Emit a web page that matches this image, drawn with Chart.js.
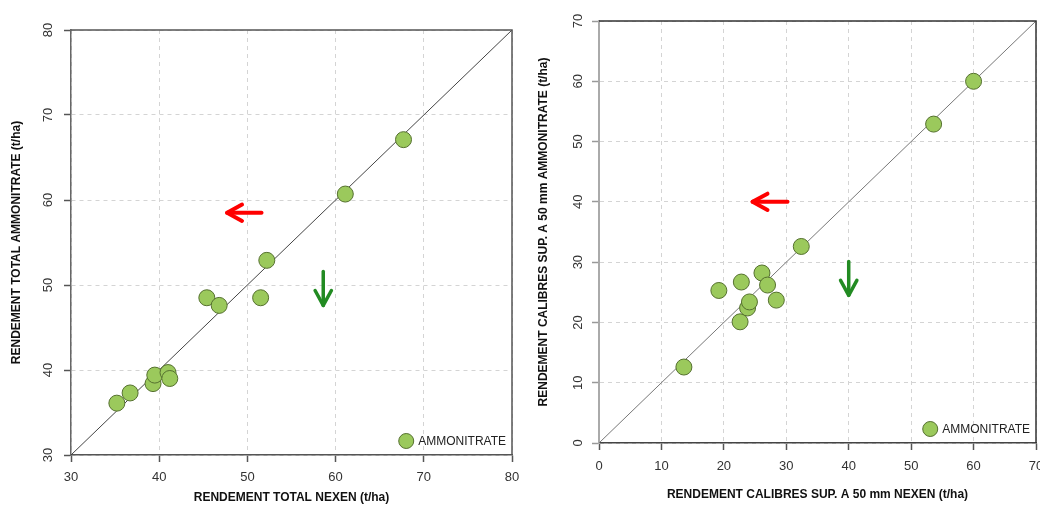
<!DOCTYPE html>
<html>
<head>
<meta charset="utf-8">
<script src="https://cdn.jsdelivr.net/npm/chart.js@4.4.1/dist/chart.umd.min.js"></script>
<style>
  html, body { margin: 0; padding: 0; background: #fff; width: 1040px; height: 511px; overflow: hidden; }
  #wrapL { position: absolute; left: 0; top: 0; width: 520px; height: 511px; overflow: hidden; }
  #wrapR { position: absolute; left: 520px; top: 0; width: 540px; height: 511px; }
</style>
</head>
<body>
<div id="wrapL"><canvas id="cL" width="540" height="511"></canvas></div>
<div id="wrapR"><canvas id="cR" width="540" height="511"></canvas></div>
<script>
// ---- Data: left chart (rendement total) ----
const leftNexen = [35.2, 36.7, 39.3, 39.5, 41.0, 41.2, 45.4, 46.8, 51.5, 52.2, 61.1, 67.7];
const leftAmmo  = [36.1, 37.3, 38.4, 39.4, 39.7, 39.0, 48.5, 47.6, 48.5, 52.9, 60.7, 67.1];
const leftTicks = [30, 40, 50, 60, 70, 80];
const leftDiag  = [30, 80];
const leftRedArrow   = [[51.6, 58.5], [47.7, 58.5]];
const leftGreenArrow = [[58.6, 51.6], [58.6, 47.6]];

// ---- Data: right chart (calibres > 50 mm) ----
const rightNexen = [13.6, 19.2, 22.8, 22.6, 23.8, 24.1, 26.1, 27.0, 28.4, 32.4, 53.6, 60.0];
const rightAmmo  = [12.6, 25.3, 26.7, 20.1, 22.4, 23.4, 28.2, 26.2, 23.7, 32.6, 52.9, 60.0];
const rightTicks = [0, 10, 20, 30, 40, 50, 60, 70];
const rightDiag  = [0, 70];
const rightRedArrow   = [[30.2, 40.0], [24.6, 40.0]];
const rightGreenArrow = [[40.0, 30.1], [40.0, 24.5]];

const seriesName = 'AMMONITRATE';
const FONT = "'Liberation Sans', Arial, sans-serif";
const PT_FILL = '#9BC95C';
const PT_BORDER = '#55702F';

function drawArrow(ctx, x1, y1, x2, y2, color, w) {
  const ang = Math.atan2(y2 - y1, x2 - x1);
  const hl = 17, ha = 0.5;
  ctx.save();
  ctx.strokeStyle = color; ctx.lineWidth = w; ctx.lineCap = 'round'; ctx.lineJoin = 'round';
  ctx.beginPath(); ctx.moveTo(x1, y1); ctx.lineTo(x2, y2); ctx.stroke();
  ctx.beginPath();
  ctx.moveTo(x2 - hl * Math.cos(ang - ha), y2 - hl * Math.sin(ang - ha));
  ctx.lineTo(x2, y2);
  ctx.lineTo(x2 - hl * Math.cos(ang + ha), y2 - hl * Math.sin(ang + ha));
  ctx.stroke();
  ctx.restore();
}

function makeChart(id, o) {
  const decor = {
    id: 'decor',
    afterDraw(chart) {
      const ctx = chart.ctx, a = chart.chartArea;
      const xs = chart.scales.x, ys = chart.scales.y;
      ctx.save();
      // frame
      ctx.lineWidth = 1.5;
      ctx.strokeStyle = o.frameColor;
      ctx.beginPath();
      ctx.moveTo(a.left, a.top); ctx.lineTo(a.right, a.top); ctx.lineTo(a.right, a.bottom);
      ctx.stroke();
      // rotated y tick labels
      ctx.fillStyle = '#333';
      ctx.font = '13px ' + FONT;
      ctx.textAlign = 'center'; ctx.textBaseline = 'middle';
      o.ticks.forEach(v => {
        const py = ys.getPixelForValue(v);
        ctx.save(); ctx.translate(o.yLabelX, py); ctx.rotate(-Math.PI / 2);
        ctx.fillText(String(v), 0, 0); ctx.restore();
      });
      // axis titles
      ctx.fillStyle = '#111';
      ctx.font = 'bold 12px ' + FONT;
      ctx.fillText(o.xTitle, (a.left + a.right) / 2, o.xTitleY);
      ctx.save(); ctx.translate(o.yTitleX, (a.top + a.bottom) / 2); ctx.rotate(-Math.PI / 2);
      ctx.fillText(o.yTitle, 0, 0); ctx.restore();
      // arrows
      const r = o.red, g = o.green;
      drawArrow(ctx, xs.getPixelForValue(r[0][0]), ys.getPixelForValue(r[0][1]),
                xs.getPixelForValue(r[1][0]), ys.getPixelForValue(r[1][1]), '#FF0000', 4);
      drawArrow(ctx, xs.getPixelForValue(g[0][0]), ys.getPixelForValue(g[0][1]),
                xs.getPixelForValue(g[1][0]), ys.getPixelForValue(g[1][1]), '#228B22', 3.5);
      // legend
      ctx.font = '12px ' + FONT;
      ctx.textAlign = 'right';
      const tx = a.right - 6, ty = a.bottom - 14;
      const tw = ctx.measureText(seriesName).width;
      ctx.fillStyle = '#222';
      ctx.fillText(seriesName, tx, ty + 0.5);
      ctx.beginPath(); ctx.arc(tx - tw - 12, ty, 7.5, 0, Math.PI * 2);
      ctx.fillStyle = PT_FILL; ctx.fill();
      ctx.lineWidth = 1; ctx.strokeStyle = PT_BORDER; ctx.stroke();
      ctx.restore();
    }
  };

  const pts = o.xs.map((x, i) => ({ x: x, y: o.ys[i] }));
  const diag = o.diag.map(v => ({ x: v, y: v }));
  const setTicks = s => { s.ticks = o.ticks.map(v => ({ value: v })); };

  return new Chart(document.getElementById(id), {
    type: 'scatter',
    data: {
      datasets: [
        { label: seriesName, data: pts, pointRadius: 8, pointHoverRadius: 8,
          backgroundColor: PT_FILL, borderColor: PT_BORDER, borderWidth: 1 },
        { type: 'line', label: 'diag', data: diag, borderColor: o.diagColor, borderWidth: 1,
          pointRadius: 0, fill: false, tension: 0 }
      ]
    },
    options: {
      responsive: false, animation: false, events: [],
      layout: { padding: { top: o.padTop, right: o.padRight, left: 0, bottom: 0 } },
      plugins: { legend: { display: false }, tooltip: { enabled: false } },
      scales: {
        x: {
          type: 'linear', min: o.ticks[0], max: o.ticks[o.ticks.length - 1],
          afterBuildTicks: setTicks,
          afterFit: s => { s.height = o.xHeight; },
          ticks: { font: { family: FONT, size: 13 }, color: '#333', padding: o.xPad, maxRotation: 0 },
          grid: { color: '#d4d4d4', lineWidth: 1, drawTicks: true,
                  tickLength: 7, tickColor: '#555', tickWidth: 1.5, tickBorderDash: [] },
          border: { display: true, color: o.bottomColor, width: 1.5, dash: [4, 4] }
        },
        y: {
          type: 'linear', min: o.ticks[0], max: o.ticks[o.ticks.length - 1],
          afterBuildTicks: setTicks,
          afterFit: s => { s.width = o.yWidth; },
          ticks: { display: false },
          grid: { color: '#d4d4d4', lineWidth: 1, drawTicks: true,
                  tickLength: 7, tickColor: o.leftTickColor, tickWidth: 1.5, tickBorderDash: [] },
          border: { display: true, color: o.leftColor, width: o.leftWidth, dash: [4, 4] }
        }
      }
    },
    plugins: [decor]
  });
}

makeChart('cL', {
  xs: leftNexen, ys: leftAmmo, ticks: leftTicks, diag: leftDiag,
  red: leftRedArrow, green: leftGreenArrow,
  xTitle: 'RENDEMENT TOTAL NEXEN (t/ha)', yTitle: 'RENDEMENT TOTAL AMMONITRATE (t/ha)',
  padTop: 30, padRight: 28, xHeight: 56, yWidth: 71, xPad: 8,
  yLabelX: 48, yTitleX: 17, xTitleY: 498,
  frameColor: '#555', bottomColor: '#555', leftColor: '#666', leftWidth: 1.5, leftTickColor: '#555',
  diagColor: '#444'
});

makeChart('cR', {
  xs: rightNexen, ys: rightAmmo, ticks: rightTicks, diag: rightDiag,
  red: rightRedArrow, green: rightGreenArrow,
  xTitle: 'RENDEMENT CALIBRES SUP. A 50 mm NEXEN (t/ha)',
  yTitle: 'RENDEMENT CALIBRES SUP. A 50 mm AMMONITRATE (t/ha)',
  padTop: 21, padRight: 24, xHeight: 68, yWidth: 79, xPad: 9,
  yLabelX: 58, yTitleX: 24, xTitleY: 495,
  frameColor: '#333', bottomColor: '#444', leftColor: '#aaa', leftWidth: 2, leftTickColor: '#999',
  diagColor: '#777'
});
</script>
</body>
</html>
